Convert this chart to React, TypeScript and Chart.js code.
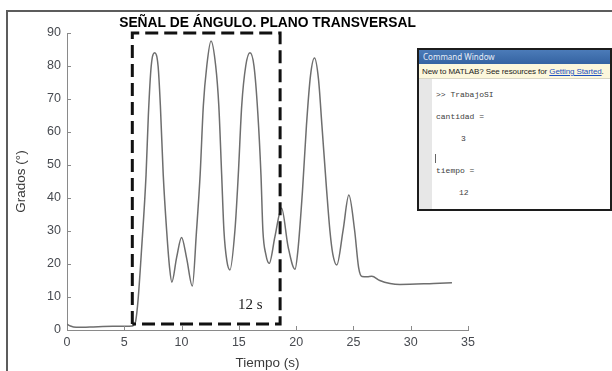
import React, { useEffect, useRef } from 'react';
import { Chart, registerables } from 'chart.js';

Chart.register(...registerables);

// Signal: time (s) vs angle (degrees)
const timeS = [
  0, 0.3, 0.8, 2, 4, 5.7, 5.8, 6.0, 6.2, 6.5,
  6.9, 7.1, 7.35, 7.65, 7.95, 8.15, 8.4, 8.7, 8.95, 9.15,
  9.57, 10.0, 10.44, 10.94, 11.3, 11.62, 11.9, 12.2, 12.57, 12.98,
  13.25, 13.5, 13.7, 13.95, 14.22, 14.66, 14.95, 15.25, 15.6, 15.97,
  16.32, 16.65, 16.93, 17.1, 17.35, 17.65, 18.15, 18.73, 19.3, 19.9,
  20.15, 20.55, 20.9, 21.25, 21.6, 21.95, 22.25, 22.66, 22.95, 23.2,
  23.55, 24.1, 24.6, 25.1, 25.45, 25.75, 26.2, 26.6, 27.3, 28.2,
  29.05, 32, 33.6,
];
const angleDeg = [
  1.8, 1.2, 0.8, 0.9, 1.1, 1.2, 1.4, 2.8, 9, 24,
  47, 65, 80, 84, 80, 68, 47, 30, 19, 14.5,
  22, 28, 21.8, 13.3, 29.8, 47, 68, 80, 87.6, 80,
  68, 47, 30, 21, 18.2, 30.3, 47, 68, 80, 84,
  80, 66, 47, 30, 23, 20.2, 28.3, 36.9, 25.2, 18.4,
  24, 42, 62, 77, 82.4, 76, 62, 42.4, 30, 23,
  19.7, 30.3, 40.9, 30.3, 19, 16.2, 16.1, 16.3, 15, 14.1,
  13.8, 14.1, 14.3,
];

// Dashed "12 s" window
const boxX = [5.7, 5.7, 18.6, 18.6, 5.7];
const boxY = [1.8, 90, 90, 1.8, 1.8];
const boxLabel = '12 s';
const boxLabelX = 16;
const boxLabelY = 7.6;

const xTicks = [0, 5, 10, 15, 20, 25, 30, 35];
const yTicks = [0, 10, 20, 30, 40, 50, 60, 70, 80, 90];

const chartTitle = 'SEÑAL DE ÁNGULO. PLANO TRANSVERSAL';
const xTitle = 'Tiempo (s)';
const yTitle = 'Grados (°)';

const consoleLines = [
  { text: '>> TrabajoSI', x: 17, y: 40 },
  { text: 'cantidad =', x: 17, y: 62 },
  { text: '3', x: 42, y: 84 },
  { text: 'tiempo =', x: 17, y: 116 },
  { text: '12', x: 40, y: 138 },
];

const axisColor = '#8a8a8a';
const tickTextColor = '#474a50';

const decorPlugin = {
  id: 'decor',
  afterDatasetsDraw(chart: any) {
    const { ctx, chartArea, scales } = chart;
    const xs = scales.x;
    const ys = scales.y;
    ctx.save();
    // inward ticks
    ctx.strokeStyle = axisColor;
    ctx.lineWidth = 1;
    ctx.beginPath();
    xTicks.forEach((v) => {
      const px = Math.round(xs.getPixelForValue(v)) + 0.5;
      ctx.moveTo(px, chartArea.bottom);
      ctx.lineTo(px, chartArea.bottom - 4);
    });
    yTicks.forEach((v) => {
      const py = Math.round(ys.getPixelForValue(v)) + 0.5;
      ctx.moveTo(chartArea.left, py);
      ctx.lineTo(chartArea.left + 4, py);
    });
    ctx.stroke();
    // label inside dashed window
    ctx.fillStyle = '#222';
    ctx.font = '15px "Liberation Serif", "DejaVu Serif", serif';
    ctx.textAlign = 'center';
    ctx.textBaseline = 'middle';
    ctx.fillText(boxLabel, xs.getPixelForValue(boxLabelX), ys.getPixelForValue(boxLabelY));
    // title
    ctx.fillStyle = '#000';
    ctx.font = 'bold 13.8px "Liberation Sans", Arial, sans-serif';
    ctx.textBaseline = 'alphabetic';
    ctx.fillText(chartTitle, (chartArea.left + chartArea.right) / 2, chartArea.top - 6);
    ctx.restore();
  },
};

export default function App() {
  const canvasRef = useRef<HTMLCanvasElement | null>(null);

  useEffect(() => {
    if (!canvasRef.current) return;
    const curve = timeS.map((t, i) => ({ x: t, y: angleDeg[i] }));
    const box = boxX.map((t, i) => ({ x: t, y: boxY[i] }));
    const tickFont = { family: '"Liberation Sans", Arial, sans-serif', size: 12.5 };
    const titleFont = { family: '"Liberation Sans", Arial, sans-serif', size: 13.5 };
    const chart = new Chart(canvasRef.current, {
      type: 'line',
      data: {
        datasets: [
          {
            data: box,
            borderColor: '#111',
            borderWidth: 3,
            borderDash: [13, 6],
            pointRadius: 0,
            tension: 0,
            fill: false,
            clip: false as any,
            order: 0,
          },
          {
            data: curve,
            borderColor: '#6e6e6e',
            borderWidth: 1.5,
            pointRadius: 0,
            cubicInterpolationMode: 'monotone',
            fill: false,
            order: 1,
          },
        ],
      },
      options: {
        animation: false,
        responsive: false,
        events: [],
        layout: { padding: { left: 0, right: 144, top: 33, bottom: 0 } },
        plugins: {
          legend: { display: false },
          tooltip: { enabled: false },
          title: { display: false },
        },
        scales: {
          x: {
            type: 'linear',
            min: 0,
            max: 35,
            grid: { display: false, drawTicks: false, tickLength: 0 },
            border: { display: true, color: axisColor, width: 1 },
            ticks: {
              stepSize: 5,
              padding: 5,
              color: tickTextColor,
              font: tickFont,
              maxRotation: 0,
            },
            title: {
              display: true,
              text: xTitle,
              color: '#3a3a3a',
              font: titleFont,
              padding: { top: 0, bottom: 0 },
            },
            afterFit: (s: any) => {
              s.height = 41;
            },
          },
          y: {
            type: 'linear',
            min: 0,
            max: 90,
            grid: { display: false, drawTicks: false, tickLength: 0 },
            border: { display: true, color: axisColor, width: 1 },
            ticks: {
              stepSize: 10,
              padding: 6,
              color: tickTextColor,
              font: tickFont,
            },
            title: {
              display: true,
              text: yTitle,
              color: '#3a3a3a',
              font: titleFont,
              padding: { top: 13.5, bottom: 0 },
            },
            afterFit: (s: any) => {
              s.width = 67;
            },
          },
        },
      },
      plugins: [decorPlugin],
    });
    return () => chart.destroy();
  }, []);

  return (
    <div style={{ position: 'absolute', left: 0, top: 0, width: 612, height: 371, overflow: 'hidden', background: '#fff' }}>
      <canvas ref={canvasRef} width={612} height={371} style={{ position: 'absolute', left: 0, top: 0 }} />
      {/* outer frame */}
      <div
        style={{
          position: 'absolute',
          left: 6,
          top: 10,
          width: 620,
          height: 380,
          borderLeft: '2px solid #5c5c5c',
          borderTop: '2px solid #5c5c5c',
          pointerEvents: 'none',
        }}
      />
      {/* command window inset */}
      <div
        style={{
          position: 'absolute',
          left: 417,
          top: 48,
          width: 195,
          height: 163,
          boxSizing: 'border-box',
          border: '2px solid #1c1c1c',
          background: '#fff',
          overflow: 'hidden',
        }}
      >
        <div
          style={{
            height: 14,
            background: 'linear-gradient(#4b7bb8, #3563a2)',
            color: '#e6edf7',
            fontFamily: '"Noto Sans", "Liberation Sans", sans-serif',
            fontSize: 8,
            lineHeight: '14px',
            paddingLeft: 4,
            whiteSpace: 'nowrap',
          }}
        >
          Command Window
        </div>
        <div
          style={{
            height: 15,
            boxSizing: 'border-box',
            background: '#fcf7dc',
            borderBottom: '1px solid #d9d6c4',
            color: '#222',
            fontFamily: '"Liberation Sans", Arial, sans-serif',
            fontSize: 8,
            lineHeight: '15px',
            paddingLeft: 3,
            whiteSpace: 'nowrap',
            letterSpacing: -0.1,
          }}
        >
          New to MATLAB? See resources for{' '}
          <span style={{ color: '#1b4fc0', textDecoration: 'underline' }}>Getting Started</span>.
        </div>
        <div style={{ position: 'absolute', left: 0, top: 29, bottom: 0, width: 13, background: '#e7e7e7' }} />
        {consoleLines.map((l, i) => (
          <div
            key={i}
            style={{
              position: 'absolute',
              left: l.x,
              top: l.y,
              fontFamily: '"Liberation Mono", "DejaVu Sans Mono", monospace',
              fontSize: 8,
              lineHeight: '10px',
              color: '#404040',
              whiteSpace: 'pre',
            }}
          >
            {l.text}
          </div>
        ))}
        <div style={{ position: 'absolute', left: 16, top: 104, width: 1, height: 9, background: '#666' }} />
      </div>
    </div>
  );
}
